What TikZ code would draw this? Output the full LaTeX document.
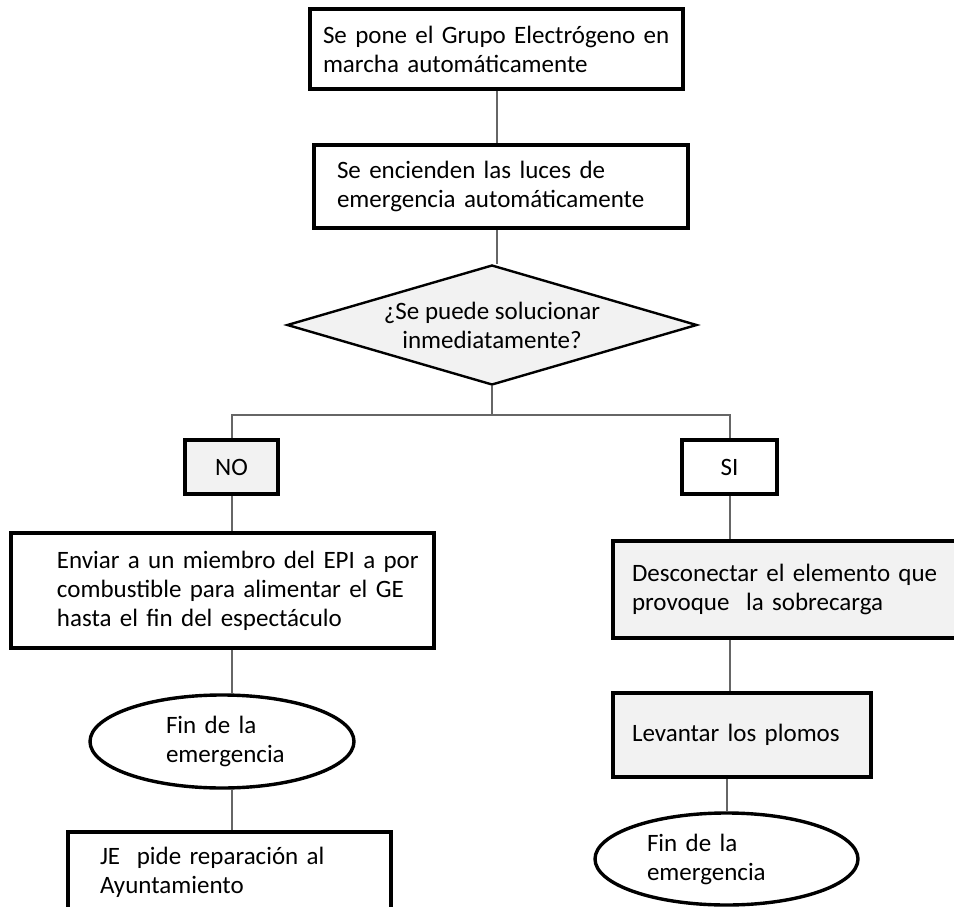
\documentclass[tikz,border=0pt]{standalone}
\usepackage{fontspec}
\setmainfont{Carlito}
\usetikzlibrary{shapes.geometric}

\definecolor{boxgray}{HTML}{F2F2F2}

\tikzstyle{process} = [rectangle, draw=black, line width=3.6pt, fill=white, inner sep=0pt, align=left]
\tikzstyle{shaded} = [fill=boxgray]
\tikzstyle{decision} = [diamond, aspect=3.4, draw=black, line width=2.4pt, fill=boxgray, inner sep=-6pt, align=center]
\tikzstyle{terminal} = [ellipse, draw=black, line width=3.4pt, fill=white, inner sep=0pt, align=left]
\tikzstyle{line} = [line width=2pt, draw=black!60]

\begin{document}
\begin{tikzpicture}[x=1pt, y=-1pt, font=\fontsize{25}{29}\selectfont]
	\clip (0,0) rectangle (954,907);
	% Place nodes
	\node [process, text width=373pt, minimum height=80pt] (marcha) at (496.5,49) {\hspace*{13pt}Se pone el Grupo Electrógeno en\\\hspace*{13pt}marcha automáticamente};
	\node [process, text width=374pt, minimum height=83pt] (luces) at (501,186.5) {\hspace*{23pt}Se encienden las luces de\\\hspace*{23pt}emergencia automáticamente};
	\node [decision, minimum width=410pt, minimum height=120pt] (solucion) at (492,325) {¿Se puede solucionar\\inmediatamente?};
	\coordinate (split) at (492,415);
	\node [process, shaded, minimum width=93pt, minimum height=54pt, align=center] (no) at (231.5,467) {NO};
	\node [process, minimum width=95pt, minimum height=54pt, align=center] (si) at (729.5,467) {SI};
	\node [process, text width=423pt, minimum height=115pt] (enviar) at (222.5,590.5) {\hspace*{46pt}Enviar a un miembro del EPI a por\\\hspace*{46pt}combustible para alimentar el GE\\\hspace*{46pt}hasta el fin del espectáculo};
	\node [terminal, text width=112pt, minimum width=264pt, minimum height=93pt] (finL) at (222,741.5) {Fin de la\\emergencia};
	\node [process, text width=323pt, minimum height=80pt] (pide) at (229.5,872) {\hspace*{32pt}JE~ pide reparación al\\\hspace*{32pt}Ayuntamiento};
	\node [process, shaded, text width=367pt, minimum height=97pt] (desconectar) at (796.5,589.5) {\hspace*{19pt}Desconectar el elemento que\\\hspace*{19pt}provoque~ la sobrecarga};
	\node [process, shaded, text width=258pt, minimum height=84pt] (levantar) at (742,735) {\hspace*{19pt}Levantar los plomos};
	\node [terminal, text width=159pt, minimum width=263pt, minimum height=92pt] (finR) at (726.5,859) {Fin de la\\emergencia};
	% Draw edges
	\draw [line] (marcha) -- (marcha |- luces.north);
	\draw [line] (marcha |- luces.south) -- (marcha |- solucion.north);
	\draw [line] (solucion.south) -- (split);
	\draw [line] (no.north) |- (split) -| (si.north);
	\draw [line] (no.south) -- (no.south |- enviar.north);
	\draw [line] (no.south |- enviar.south) -- (no.south |- finL.north);
	\draw [line] (no.south |- finL.south) -- (no.south |- pide.north);
	\draw [line] (si.south) -- (si.south |- desconectar.north);
	\draw [line] (si.south |- desconectar.south) -- (si.south |- levantar.north);
	\draw [line] (finR.north |- levantar.south) -- (finR.north);
\end{tikzpicture}
\end{document}
